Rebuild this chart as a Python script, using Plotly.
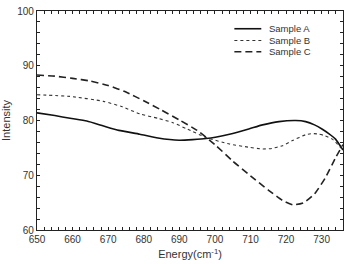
import plotly.graph_objects as go

energy_a = [650, 655, 659.3, 664, 668.7, 673, 678.9, 684, 690, 697.5, 704.1, 709.7, 713.4, 718, 722.7, 725.5, 728, 730.2, 732, 733.9, 736]
sample_a = [81.4, 80.9, 80.4, 79.9, 79.0, 78.2, 77.5, 76.8, 76.4, 76.7, 77.5, 78.5, 79.2, 79.8, 80.0, 79.8, 79.2, 78.4, 77.6, 76.6, 74.6]

energy_b = [650, 659.3, 668.7, 674, 678.9, 684, 688.2, 692, 697.5, 704.1, 709.7, 713.4, 716, 719, 722, 725.5, 727.5, 729.3, 731, 733, 736]
sample_b = [84.7, 84.4, 83.5, 82.5, 81.2, 80.4, 79.6, 78.5, 76.9, 75.7, 75.1, 74.8, 74.9, 75.4, 76.4, 77.4, 77.6, 77.5, 77.2, 76.6, 74.6]

energy_c = [650, 655, 660, 665, 670, 675, 680, 685, 690, 695, 700, 705, 710, 715, 719, 722, 725, 728, 731, 734, 736]
sample_c = [88.3, 88.1, 87.7, 87.2, 86.4, 85.2, 83.6, 81.9, 80.1, 78.2, 75.6, 72.6, 69.9, 67.3, 65.4, 64.6, 65.0, 66.6, 69.5, 73.3, 75.6]

series_names = ["Sample A", "Sample B", "Sample C"]
line_styles = [
    dict(color="#111111", width=1.6, dash="solid"),
    dict(color="#333333", width=1.1, dash="dot"),
    dict(color="#222222", width=1.6, dash="7px,4px"),
]

fig = go.Figure()
for xs, ys, name, ls in zip([energy_a, energy_b, energy_c], [sample_a, sample_b, sample_c],
                            series_names, line_styles):
    fig.add_trace(go.Scatter(x=xs, y=ys, mode="lines", name=name, showlegend=False,
                             line=dict(shape="spline", smoothing=0.5, **ls)))

# manual compact legend
legend_rows = [0.919, 0.865, 0.814]
for yrow, name, ls in zip(legend_rows, series_names, line_styles):
    fig.add_shape(type="line", xref="paper", yref="paper", x0=0.645, x1=0.733, y0=yrow, y1=yrow,
                  line=ls)
    fig.add_annotation(xref="paper", yref="paper", x=0.752, y=yrow, text=name, showarrow=False,
                       xanchor="left", yanchor="middle",
                       font=dict(family="Liberation Sans, Arial", size=9.5, color="#333333"))

axis_common = dict(
    showline=True, linecolor="#222222", linewidth=1.2, mirror="ticks",
    ticks="inside", ticklen=3, tickcolor="#222222", tickwidth=1,
    showgrid=False, zeroline=False,
    tickfont=dict(family="Liberation Sans, Arial", size=10, color="#333333"),
)

fig.update_xaxes(range=[650, 736], tick0=650, dtick=10,
                 minor=dict(dtick=2, ticks="inside", ticklen=3, tickcolor="#222222"),
                 title=dict(text="Energy(cm<sup>-1</sup>)", standoff=6,
                            font=dict(family="Liberation Sans, Arial", size=11, color="#333333")),
                 **axis_common)
fig.update_yaxes(range=[60, 100], tick0=60, dtick=10,
                 minor=dict(dtick=2, ticks="inside", ticklen=3, tickcolor="#222222"),
                 title=dict(text="Intensity", standoff=4,
                            font=dict(family="Liberation Sans, Arial", size=11, color="#333333")),
                 **axis_common)

fig.update_layout(
    width=349, height=264,
    margin=dict(l=37, r=5, t=8, b=33),
    paper_bgcolor="white", plot_bgcolor="white",
    showlegend=False,
)

fig.write_html("out.html")
